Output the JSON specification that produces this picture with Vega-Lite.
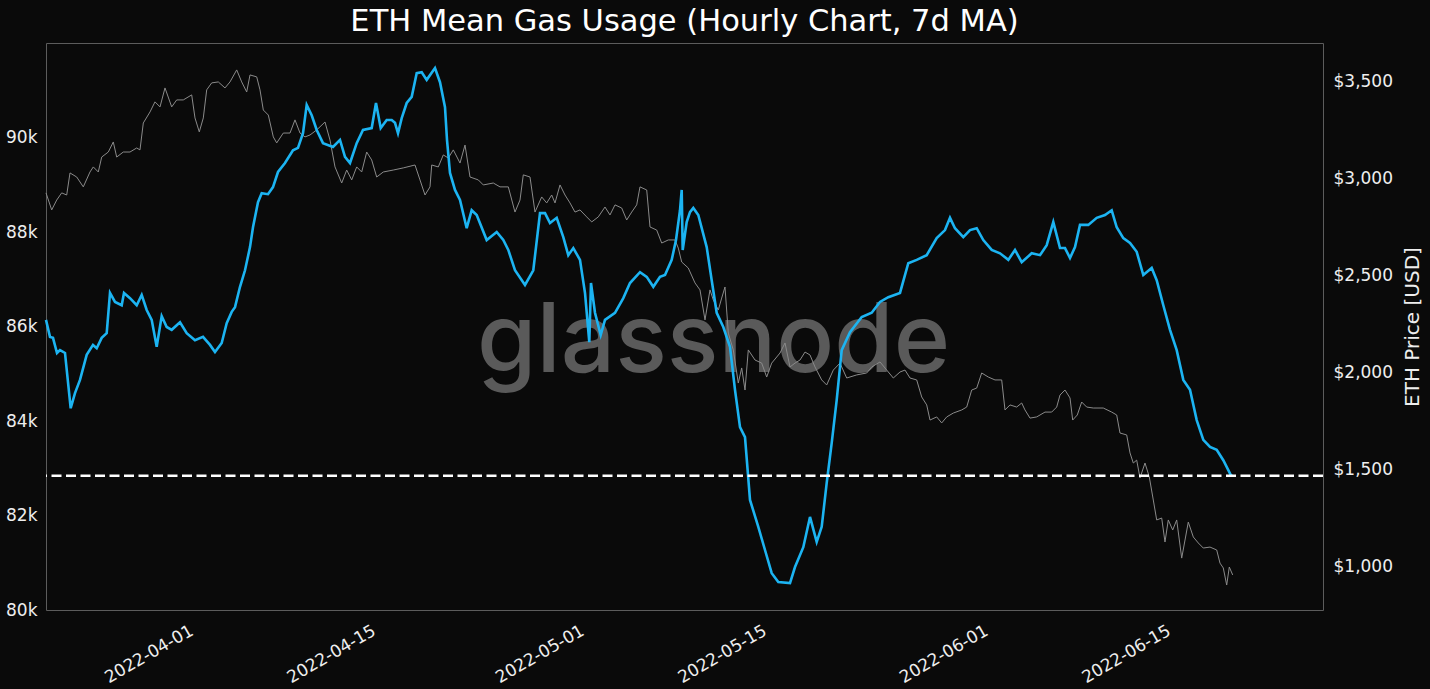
{
"$schema": "https://vega.github.io/schema/vega-lite/v6.json",
"width": 1277, "height": 567,
"autosize": {"type": "none"},
"padding": {"left": 46, "top": 43, "right": 107, "bottom": 79},
"background": "#0a0a0a",
"config": {
  "view": {"stroke": "#5c5c5c", "strokeWidth": 1},
  "font": "DejaVu Sans",
  "axis": {"grid": false, "domain": false, "ticks": false, "labelColor": "#eeeeee", "labelFont": "DejaVu Sans", "labelFontSize": 17, "titleColor": "#eeeeee", "titleFont": "DejaVu Sans", "titleFontWeight": "normal", "titleFontSize": 20}
},
"title": {"text": "ETH Mean Gas Usage (Hourly Chart, 7d MA)", "color": "#ffffff", "font": "DejaVu Sans", "fontSize": 30.5, "fontWeight": "normal", "anchor": "middle", "offset": 6},
"datasets": {
"gas": [
{"t":"2022-03-20T19:05","gas":86140},{"t":"2022-03-21T02:27","gas":85780},{"t":"2022-03-21T07:58","gas":85760},{"t":"2022-03-21T15:20","gas":85440},{"t":"2022-03-21T20:51","gas":85500},{"t":"2022-03-22T06:04","gas":85440},{"t":"2022-03-22T16:33","gas":84270},{"t":"2022-03-23T00:29","gas":84590},{"t":"2022-03-23T09:42","gas":84870},{"t":"2022-03-23T22:02","gas":85400},{"t":"2022-03-24T09:38","gas":85610},{"t":"2022-03-24T16:28","gas":85540},{"t":"2022-03-25T01:41","gas":85760},{"t":"2022-03-25T10:53","gas":85860},{"t":"2022-03-25T16:58","gas":86710},{"t":"2022-03-26T02:11","gas":86520},{"t":"2022-03-26T14:31","gas":86450},{"t":"2022-03-26T18:45","gas":86710},{"t":"2022-03-27T05:48","gas":86600},{"t":"2022-03-27T18:09","gas":86450},{"t":"2022-03-28T03:21","gas":86670},{"t":"2022-03-28T12:33","gas":86350},{"t":"2022-03-28T21:46","gas":86140},{"t":"2022-03-29T06:58","gas":85570},{"t":"2022-03-29T16:11","gas":86220},{"t":"2022-03-30T01:24","gas":85990},{"t":"2022-03-30T10:37","gas":85930},{"t":"2022-03-31T01:54","gas":86090},{"t":"2022-03-31T14:14","gas":85860},{"t":"2022-04-01T05:31","gas":85710},{"t":"2022-04-01T20:15","gas":85780},{"t":"2022-04-02T09:09","gas":85610},{"t":"2022-04-02T18:21","gas":85460},{"t":"2022-04-03T06:42","gas":85650},{"t":"2022-04-03T15:55","gas":86070},{"t":"2022-04-04T01:08","gas":86310},{"t":"2022-04-04T07:12","gas":86410},{"t":"2022-04-04T16:25","gas":86840},{"t":"2022-04-05T01:38","gas":87190},{"t":"2022-04-05T10:50","gas":87680},{"t":"2022-04-05T16:21","gas":88100},{"t":"2022-04-06T01:34","gas":88630},{"t":"2022-04-06T08:23","gas":88820},{"t":"2022-04-06T19:59","gas":88800},{"t":"2022-04-07T05:11","gas":88950},{"t":"2022-04-07T14:24","gas":89270},{"t":"2022-04-08T03:17","gas":89460},{"t":"2022-04-08T18:01","gas":89730},{"t":"2022-04-09T03:14","gas":89780},{"t":"2022-04-09T12:27","gas":90090},{"t":"2022-04-09T19:16","gas":90690},{"t":"2022-04-10T04:29","gas":90470},{"t":"2022-04-10T13:41","gas":90160},{"t":"2022-04-11T01:17","gas":89880},{"t":"2022-04-11T19:42","gas":89800},{"t":"2022-04-12T08:36","gas":89950},{"t":"2022-04-12T17:48","gas":89590},{"t":"2022-04-13T03:01","gas":89460},{"t":"2022-04-13T15:21","gas":89880},{"t":"2022-04-14T02:58","gas":90160},{"t":"2022-04-14T18:59","gas":90200},{"t":"2022-04-15T02:54","gas":90730},{"t":"2022-04-15T11:34","gas":90200},{"t":"2022-04-15T22:36","gas":90370},{"t":"2022-04-16T07:49","gas":90370},{"t":"2022-04-16T13:54","gas":90310},{"t":"2022-04-16T19:26","gas":90090},{"t":"2022-04-17T02:15","gas":90410},{"t":"2022-04-17T11:28","gas":90730},{"t":"2022-04-17T20:40","gas":90860},{"t":"2022-04-18T05:53","gas":91360},{"t":"2022-04-18T15:05","gas":91380},{"t":"2022-04-19T00:18","gas":91220},{"t":"2022-04-19T15:34","gas":91470},{"t":"2022-04-20T00:47","gas":91170},{"t":"2022-04-20T10:00","gas":90640},{"t":"2022-04-20T13:41","gas":89950},{"t":"2022-04-20T19:12","gas":89250},{"t":"2022-04-21T04:25","gas":88890},{"t":"2022-04-21T13:38","gas":88680},{"t":"2022-04-22T01:58","gas":88080},{"t":"2022-04-22T11:11","gas":88460},{"t":"2022-04-22T20:24","gas":88360},{"t":"2022-04-23T14:48","gas":87830},{"t":"2022-04-24T09:14","gas":88000},{"t":"2022-04-24T21:23","gas":87830},{"t":"2022-04-25T06:36","gas":87620},{"t":"2022-04-25T18:56","gas":87190},{"t":"2022-04-26T13:20","gas":86880},{"t":"2022-04-27T04:38","gas":87190},{"t":"2022-04-27T16:59","gas":88400},{"t":"2022-04-28T02:11","gas":88400},{"t":"2022-04-28T11:24","gas":88190},{"t":"2022-04-28T23:44","gas":88300},{"t":"2022-04-29T11:54","gas":87890},{"t":"2022-04-29T21:06","gas":87510},{"t":"2022-04-30T06:19","gas":87660},{"t":"2022-04-30T18:39","gas":87410},{"t":"2022-05-01T03:52","gas":86710},{"t":"2022-05-01T11:47","gas":85670},{"t":"2022-05-01T14:54","gas":86920},{"t":"2022-05-01T22:16","gas":86290},{"t":"2022-05-02T08:46","gas":85820},{"t":"2022-05-02T16:42","gas":86140},{"t":"2022-05-03T11:08","gas":86290},{"t":"2022-05-04T02:25","gas":86600},{"t":"2022-05-04T14:46","gas":86920},{"t":"2022-05-05T09:10","gas":87150},{"t":"2022-05-05T21:32","gas":87050},{"t":"2022-05-06T09:40","gas":86840},{"t":"2022-05-06T22:01","gas":87050},{"t":"2022-05-07T07:13","gas":87090},{"t":"2022-05-07T19:34","gas":87410},{"t":"2022-05-08T03:29","gas":87830},{"t":"2022-05-08T10:51","gas":88460},{"t":"2022-05-08T13:59","gas":88890},{"t":"2022-05-08T15:49","gas":87620},{"t":"2022-05-08T23:11","gas":88210},{"t":"2022-05-09T05:15","gas":88420},{"t":"2022-05-09T11:20","gas":88510},{"t":"2022-05-09T20:33","gas":88360},{"t":"2022-05-10T12:01","gas":87680},{"t":"2022-05-10T21:14","gas":86980},{"t":"2022-05-11T06:26","gas":86290},{"t":"2022-05-11T18:36","gas":85990},{"t":"2022-05-12T06:56","gas":85570},{"t":"2022-05-12T16:09","gas":84660},{"t":"2022-05-13T01:22","gas":83870},{"t":"2022-05-13T10:35","gas":83660},{"t":"2022-05-13T19:47","gas":82330},{"t":"2022-05-14T11:04","gas":81760},{"t":"2022-05-14T23:24","gas":81270},{"t":"2022-05-15T11:45","gas":80780},{"t":"2022-05-15T23:54","gas":80590},{"t":"2022-05-16T21:27","gas":80570},{"t":"2022-05-17T06:40","gas":80910},{"t":"2022-05-17T21:58","gas":81330},{"t":"2022-05-18T10:18","gas":81970},{"t":"2022-05-18T22:38","gas":81440},{"t":"2022-05-19T07:51","gas":81760},{"t":"2022-05-19T17:04","gas":82690},{"t":"2022-05-20T02:15","gas":83530},{"t":"2022-05-20T11:28","gas":84440},{"t":"2022-05-20T20:41","gas":85500},{"t":"2022-05-21T11:58","gas":85880},{"t":"2022-05-22T09:32","gas":86200},{"t":"2022-05-23T03:56","gas":86290},{"t":"2022-05-23T19:13","gas":86520},{"t":"2022-05-24T10:31","gas":86620},{"t":"2022-05-25T08:04","gas":86710},{"t":"2022-05-25T23:21","gas":87340},{"t":"2022-05-26T14:49","gas":87410},{"t":"2022-05-27T09:14","gas":87510},{"t":"2022-05-28T03:39","gas":87870},{"t":"2022-05-28T18:56","gas":88040},{"t":"2022-05-29T04:09","gas":88300},{"t":"2022-05-29T13:22","gas":88080},{"t":"2022-05-30T04:39","gas":87890},{"t":"2022-05-30T16:59","gas":88040},{"t":"2022-05-31T05:21","gas":88080},{"t":"2022-05-31T17:30","gas":87830},{"t":"2022-06-01T08:58","gas":87620},{"t":"2022-06-02T00:16","gas":87550},{"t":"2022-06-02T15:33","gas":87410},{"t":"2022-06-03T03:53","gas":87620},{"t":"2022-06-03T16:14","gas":87360},{"t":"2022-06-04T10:39","gas":87550},{"t":"2022-06-05T01:57","gas":87510},{"t":"2022-06-05T14:17","gas":87720},{"t":"2022-06-06T02:26","gas":88210},{"t":"2022-06-06T14:47","gas":87660},{"t":"2022-06-06T23:59","gas":87660},{"t":"2022-06-07T09:12","gas":87450},{"t":"2022-06-07T18:25","gas":87680},{"t":"2022-06-08T03:37","gas":88150},{"t":"2022-06-08T18:55","gas":88150},{"t":"2022-06-09T10:23","gas":88300},{"t":"2022-06-10T01:40","gas":88360},{"t":"2022-06-10T14:00","gas":88460},{"t":"2022-06-10T23:13","gas":88100},{"t":"2022-06-11T11:22","gas":87870},{"t":"2022-06-11T23:43","gas":87770},{"t":"2022-06-12T12:03","gas":87580},{"t":"2022-06-13T00:13","gas":87090},{"t":"2022-06-13T15:41","gas":87240},{"t":"2022-06-14T00:53","gas":86980},{"t":"2022-06-14T13:03","gas":86450},{"t":"2022-06-15T01:24","gas":85930},{"t":"2022-06-15T13:44","gas":85500},{"t":"2022-06-16T01:54","gas":84870},{"t":"2022-06-16T14:14","gas":84660},{"t":"2022-06-17T02:34","gas":84020},{"t":"2022-06-17T14:44","gas":83600},{"t":"2022-06-18T03:04","gas":83450},{"t":"2022-06-18T15:24","gas":83390},{"t":"2022-06-19T03:33","gas":83170},{"t":"2022-06-19T17:11","gas":82860},{"t":"2022-06-19T19:35","gas":82840}
],
"price": [
{"t":"2022-03-20T19:05","price":2927},{"t":"2022-03-21T05:35","price":2839},{"t":"2022-03-21T14:47","price":2890},{"t":"2022-03-22T00:00","price":2927},{"t":"2022-03-22T09:12","price":2916},{"t":"2022-03-22T15:17","price":3030},{"t":"2022-03-23T03:37","price":3009},{"t":"2022-03-23T15:46","price":2958},{"t":"2022-03-24T04:07","price":3035},{"t":"2022-03-24T10:12","price":3061},{"t":"2022-03-24T19:25","price":3035},{"t":"2022-03-25T01:41","price":3112},{"t":"2022-03-25T13:50","price":3138},{"t":"2022-03-25T23:02","price":3190},{"t":"2022-03-26T05:18","price":3112},{"t":"2022-03-26T17:27","price":3138},{"t":"2022-03-27T05:48","price":3138},{"t":"2022-03-27T18:09","price":3159},{"t":"2022-03-28T00:13","price":3149},{"t":"2022-03-28T06:18","price":3288},{"t":"2022-03-28T18:39","price":3345},{"t":"2022-03-29T03:51","price":3397},{"t":"2022-03-29T13:04","price":3371},{"t":"2022-03-29T22:16","price":3469},{"t":"2022-03-30T10:37","price":3371},{"t":"2022-03-30T19:49","price":3407},{"t":"2022-03-31T07:58","price":3407},{"t":"2022-03-31T23:27","price":3433},{"t":"2022-04-01T05:31","price":3314},{"t":"2022-04-01T13:26","price":3242},{"t":"2022-04-01T20:49","price":3314},{"t":"2022-04-02T03:04","price":3459},{"t":"2022-04-02T12:17","price":3495},{"t":"2022-04-03T00:26","price":3500},{"t":"2022-04-03T12:47","price":3469},{"t":"2022-04-03T21:59","price":3500},{"t":"2022-04-04T10:20","price":3562},{"t":"2022-04-04T19:32","price":3500},{"t":"2022-04-05T04:45","price":3448},{"t":"2022-04-05T10:50","price":3536},{"t":"2022-04-05T23:11","price":3526},{"t":"2022-04-06T05:15","price":3459},{"t":"2022-04-06T11:20","price":3355},{"t":"2022-04-06T20:33","price":3329},{"t":"2022-04-07T05:45","price":3216},{"t":"2022-04-07T12:01","price":3185},{"t":"2022-04-08T00:10","price":3236},{"t":"2022-04-08T12:30","price":3236},{"t":"2022-04-08T21:43","price":3304},{"t":"2022-04-09T06:56","price":3236},{"t":"2022-04-09T16:08","price":3216},{"t":"2022-04-10T01:21","price":3226},{"t":"2022-04-10T13:41","price":3252},{"t":"2022-04-11T04:58","price":3293},{"t":"2022-04-11T14:11","price":3200},{"t":"2022-04-11T23:24","price":3061},{"t":"2022-04-12T11:44","price":2978},{"t":"2022-04-12T20:57","price":3045},{"t":"2022-04-13T06:09","price":2994},{"t":"2022-04-13T15:21","price":3061},{"t":"2022-04-14T00:34","price":3035},{"t":"2022-04-14T09:47","price":3138},{"t":"2022-04-14T18:59","price":3097},{"t":"2022-04-15T04:12","price":3009},{"t":"2022-04-15T16:22","price":3035},{"t":"2022-04-16T10:46","price":3045},{"t":"2022-04-17T05:12","price":3056},{"t":"2022-04-18T02:46","price":3071},{"t":"2022-04-18T11:57","price":2994},{"t":"2022-04-18T21:10","price":2916},{"t":"2022-04-19T06:23","price":2958},{"t":"2022-04-19T09:31","price":3071},{"t":"2022-04-19T21:40","price":3061},{"t":"2022-04-20T06:53","price":3123},{"t":"2022-04-20T16:05","price":3107},{"t":"2022-04-21T01:18","price":3149},{"t":"2022-04-21T13:38","price":3081},{"t":"2022-04-21T22:51","price":3174},{"t":"2022-04-22T08:04","price":3009},{"t":"2022-04-22T23:21","price":2994},{"t":"2022-04-23T08:34","price":2968},{"t":"2022-04-24T02:58","price":2978},{"t":"2022-04-24T15:19","price":2958},{"t":"2022-04-25T06:36","price":2958},{"t":"2022-04-25T18:56","price":2828},{"t":"2022-04-26T04:09","price":2890},{"t":"2022-04-26T10:13","price":3020},{"t":"2022-04-26T22:34","price":3009},{"t":"2022-04-27T07:46","price":2828},{"t":"2022-04-27T20:07","price":2906},{"t":"2022-04-28T05:20","price":2875},{"t":"2022-04-28T14:32","price":2916},{"t":"2022-04-28T20:37","price":2875},{"t":"2022-04-29T05:50","price":2968},{"t":"2022-04-29T15:02","price":2916},{"t":"2022-04-30T00:14","price":2875},{"t":"2022-04-30T09:27","price":2828},{"t":"2022-04-30T18:39","price":2839},{"t":"2022-05-01T07:00","price":2803},{"t":"2022-05-01T16:13","price":2777},{"t":"2022-05-02T04:22","price":2803},{"t":"2022-05-02T16:42","price":2854},{"t":"2022-05-03T01:55","price":2813},{"t":"2022-05-03T11:08","price":2865},{"t":"2022-05-03T23:28","price":2849},{"t":"2022-05-04T08:41","price":2787},{"t":"2022-05-04T17:54","price":2828},{"t":"2022-05-05T03:06","price":2865},{"t":"2022-05-05T09:10","price":2958},{"t":"2022-05-05T21:32","price":2942},{"t":"2022-05-06T03:36","price":2751},{"t":"2022-05-06T15:56","price":2735},{"t":"2022-05-07T01:09","price":2668},{"t":"2022-05-07T13:18","price":2684},{"t":"2022-05-08T01:38","price":2684},{"t":"2022-05-08T07:43","price":2642},{"t":"2022-05-08T13:59","price":2570},{"t":"2022-05-09T02:08","price":2539},{"t":"2022-05-09T14:28","price":2462},{"t":"2022-05-09T23:41","price":2426},{"t":"2022-05-10T08:54","price":2271},{"t":"2022-05-10T18:06","price":2426},{"t":"2022-05-11T00:11","price":2374},{"t":"2022-05-11T09:23","price":2322},{"t":"2022-05-11T15:39","price":2384},{"t":"2022-05-11T21:44","price":2441},{"t":"2022-05-12T03:49","price":2203},{"t":"2022-05-12T13:00","price":2116},{"t":"2022-05-12T22:13","price":1945},{"t":"2022-05-13T04:29","price":2023},{"t":"2022-05-13T10:35","price":1909},{"t":"2022-05-13T16:39","price":2116},{"t":"2022-05-14T05:00","price":2064},{"t":"2022-05-14T17:20","price":2048},{"t":"2022-05-15T02:33","price":1976},{"t":"2022-05-15T11:45","price":2048},{"t":"2022-05-16T03:03","price":2100},{"t":"2022-05-16T12:16","price":2152},{"t":"2022-05-16T21:27","price":2028},{"t":"2022-05-17T06:40","price":2048},{"t":"2022-05-17T15:53","price":2064},{"t":"2022-05-18T01:06","price":2105},{"t":"2022-05-18T10:18","price":2090},{"t":"2022-05-18T19:31","price":2028},{"t":"2022-05-19T07:51","price":1961},{"t":"2022-05-19T17:04","price":1935},{"t":"2022-05-20T05:14","price":2012},{"t":"2022-05-20T17:34","price":2048},{"t":"2022-05-21T05:54","price":1971},{"t":"2022-05-22T00:20","price":1987},{"t":"2022-05-22T18:45","price":1997},{"t":"2022-05-23T03:58","price":2028},{"t":"2022-05-23T19:15","price":2054},{"t":"2022-05-24T07:35","price":2012},{"t":"2022-05-24T19:45","price":1971},{"t":"2022-05-25T08:05","price":2002},{"t":"2022-05-25T17:18","price":2012},{"t":"2022-05-26T02:30","price":1971},{"t":"2022-05-26T14:50","price":1961},{"t":"2022-05-27T00:03","price":1873},{"t":"2022-05-27T09:16","price":1832},{"t":"2022-05-27T15:20","price":1754},{"t":"2022-05-28T03:40","price":1770},{"t":"2022-05-28T12:53","price":1739},{"t":"2022-05-28T22:06","price":1770},{"t":"2022-05-29T10:15","price":1790},{"t":"2022-05-30T01:44","price":1806},{"t":"2022-05-30T10:55","price":1821},{"t":"2022-05-30T20:08","price":1909},{"t":"2022-05-31T05:21","price":1919},{"t":"2022-05-31T14:34","price":1997},{"t":"2022-06-01T02:43","price":1976},{"t":"2022-06-01T15:03","price":1961},{"t":"2022-06-02T03:23","price":1961},{"t":"2022-06-02T09:29","price":1806},{"t":"2022-06-02T18:40","price":1832},{"t":"2022-06-03T07:00","price":1821},{"t":"2022-06-03T16:14","price":1842},{"t":"2022-06-03T22:18","price":1806},{"t":"2022-06-04T07:31","price":1764},{"t":"2022-06-04T19:51","price":1770},{"t":"2022-06-05T11:08","price":1795},{"t":"2022-06-05T23:28","price":1795},{"t":"2022-06-06T08:41","price":1821},{"t":"2022-06-06T14:46","price":1883},{"t":"2022-06-06T23:59","price":1909},{"t":"2022-06-07T09:12","price":1868},{"t":"2022-06-07T14:10","price":1754},{"t":"2022-06-07T22:38","price":1780},{"t":"2022-06-08T06:45","price":1847},{"t":"2022-06-08T15:56","price":1821},{"t":"2022-06-09T04:06","price":1816},{"t":"2022-06-09T22:31","price":1816},{"t":"2022-06-10T14:00","price":1795},{"t":"2022-06-10T23:13","price":1780},{"t":"2022-06-11T05:17","price":1687},{"t":"2022-06-11T17:37","price":1677},{"t":"2022-06-11T23:43","price":1584},{"t":"2022-06-12T05:47","price":1532},{"t":"2022-06-12T12:03","price":1547},{"t":"2022-06-12T18:07","price":1455},{"t":"2022-06-13T03:20","price":1532},{"t":"2022-06-13T11:15","price":1460},{"t":"2022-06-13T18:37","price":1341},{"t":"2022-06-14T00:53","price":1238},{"t":"2022-06-14T10:06","price":1248},{"t":"2022-06-14T16:10","price":1124},{"t":"2022-06-14T22:15","price":1238},{"t":"2022-06-15T06:22","price":1186},{"t":"2022-06-15T13:44","price":1238},{"t":"2022-06-15T22:57","price":1041},{"t":"2022-06-16T11:05","price":1227},{"t":"2022-06-16T20:18","price":1150},{"t":"2022-06-17T05:31","price":1119},{"t":"2022-06-17T14:43","price":1093},{"t":"2022-06-18T03:04","price":1098},{"t":"2022-06-18T15:24","price":1083},{"t":"2022-06-18T21:29","price":1015},{"t":"2022-06-19T03:33","price":990},{"t":"2022-06-19T09:49","price":902},{"t":"2022-06-19T14:37","price":995},{"t":"2022-06-19T20:51","price":954}
]
},
"layer": [
  {
    "data": {"values": [{"label": "glassnode"}]},
    "mark": {"type": "text", "font": "Inter", "fontSize": 96, "fontWeight": 500, "color": "#5a5a5a", "align": "center", "baseline": "alphabetic", "dx": 29, "dy": 45},
    "encoding": {"text": {"field": "label"}}
  },
  {
    "data": {"name": "price"},
    "mark": {"type": "line", "color": "#8a8a8a", "strokeWidth": 1},
    "encoding": {
      "x": {"field": "t", "type": "temporal",
            "scale": {"domain": [{"year": 2022, "month": 3, "date": 20, "hours": 19, "minutes": 5}, {"year": 2022, "month": 6, "date": 26, "hours": 19, "minutes": 12}]},
            "axis": {"values": [{"year": 2022, "month": 4, "date": 1}, {"year": 2022, "month": 4, "date": 15}, {"year": 2022, "month": 5, "date": 1}, {"year": 2022, "month": 5, "date": 15}, {"year": 2022, "month": 6, "date": 1}, {"year": 2022, "month": 6, "date": 15}],
                     "format": "%Y-%m-%d", "labelAngle": -30, "labelAlign": "right", "labelBaseline": "bottom", "labelPadding": 27, "labelOffset": 4, "title": null}},
      "y": {"field": "price", "type": "quantitative",
            "scale": {"domain": [773, 3701], "nice": false, "zero": false},
            "axis": {"orient": "right", "values": [1000, 1500, 2000, 2500, 3000, 3500], "format": "$,.0f", "labelPadding": 10, "title": "ETH Price [USD]", "titleAngle": 270, "titleBaseline": "top", "titlePadding": 10}}
    }
  },
  {
    "layer": [
      {
        "data": {"name": "gas"},
        "mark": {"type": "line", "color": "#1cb4f2", "strokeWidth": 2.6},
        "encoding": {
          "x": {"field": "t", "type": "temporal",
                "scale": {"domain": [{"year": 2022, "month": 3, "date": 20, "hours": 19, "minutes": 5}, {"year": 2022, "month": 6, "date": 26, "hours": 19, "minutes": 12}]},
                "axis": {"values": [{"year": 2022, "month": 4, "date": 1}, {"year": 2022, "month": 4, "date": 15}, {"year": 2022, "month": 5, "date": 1}, {"year": 2022, "month": 5, "date": 15}, {"year": 2022, "month": 6, "date": 1}, {"year": 2022, "month": 6, "date": 15}],
                         "format": "%Y-%m-%d", "labelAngle": -30, "labelAlign": "right", "labelBaseline": "bottom", "labelPadding": 27, "labelOffset": 4, "title": null}},
          "y": {"field": "gas", "type": "quantitative",
                "scale": {"domain": [80000, 92000], "nice": false, "zero": false},
                "axis": {"orient": "left", "values": [80000, 82000, 84000, 86000, 88000, 90000], "labelExpr": "(datum.value / 1000) + 'k'", "labelPadding": 9, "title": null}}
        }
      },
      {
        "data": {"values": [{"level": "current"}]},
        "mark": {"type": "rule", "color": "#ffffff", "strokeWidth": 2.5, "strokeDash": [10, 4.5]},
        "encoding": {"y": {"datum": 82840}}
      }
    ]
  }
],
"resolve": {"scale": {"y": "independent"}}
}
